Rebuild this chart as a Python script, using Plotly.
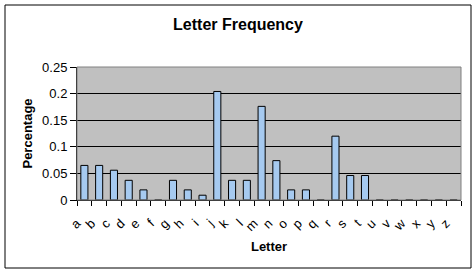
import plotly.graph_objects as go

letters = list("abcdefghijklmnopqrstuvwxyz")
freq = [0.065, 0.065, 0.056, 0.037, 0.019, 0.0, 0.037, 0.019, 0.009, 0.204,
        0.037, 0.037, 0.176, 0.074, 0.019, 0.019, 0.0, 0.120, 0.046, 0.046,
        0.0, 0.0, 0.0, 0.0, 0.0, 0.0]
y_ticks = [0, 0.05, 0.1, 0.15, 0.2, 0.25]
y_tick_text = ["0", "0.05", "0.1", "0.15", "0.2", "0.25"]

L, R, T, B = 77, 15, 67, 73
W, H = 476, 273
pw, ph = W - L - R, H - T - B

fig = go.Figure(go.Bar(
    x=letters, y=freq,
    marker=dict(color="#A6CAF0", line=dict(color="black", width=1)),
))

fig.update_layout(
    width=W, height=H,
    margin=dict(l=L, r=R, t=T, b=B),
    paper_bgcolor="white", plot_bgcolor="#C0C0C0",
    bargap=0.52,
    showlegend=False,
    font=dict(family="Liberation Sans, Arial, sans-serif", color="black", size=13),
    title=dict(text="<b>Letter Frequency</b>", x=0.5, xanchor="center",
               y=1 - 24 / H, yanchor="middle", font=dict(size=16)),
    xaxis=dict(
        title=dict(text="<b>Letter</b>", font=dict(size=13), standoff=8),
        tickmode="array", tickvals=letters,
        ticktext=[c + "\u00a0\u00a0\u00a0" for c in letters],
        tickangle=-45, ticks="outside", ticklen=5, tickcolor="black",
        ticklabelstandoff=2, tickfont=dict(size=13),
        showline=True, linecolor="black", linewidth=1,
        showgrid=False, tickson="boundaries", range=[-0.5, 25.5],
    ),
    yaxis=dict(
        title=dict(text="<b>Percentage</b>", font=dict(size=13), standoff=6),
        range=[0, 0.25], tickvals=y_ticks, ticktext=y_tick_text,
        ticks="outside", ticklen=6, tickcolor="black",
        showline=True, linecolor="black", linewidth=1,
        showgrid=True, gridcolor="black", gridwidth=1, zeroline=False,
    ),
    shapes=[
        dict(type="rect", xref="paper", yref="paper", x0=0, x1=1, y0=0, y1=1,
             line=dict(color="#808080", width=1), layer="above"),
        dict(type="rect", xref="paper", yref="paper",
             x0=(5 - L) / pw, x1=(471 - L) / pw,
             y0=(H - B - 268) / ph, y1=(H - B - 5) / ph,
             line=dict(color="black", width=1)),
    ],
)

fig.write_html("out.html")
